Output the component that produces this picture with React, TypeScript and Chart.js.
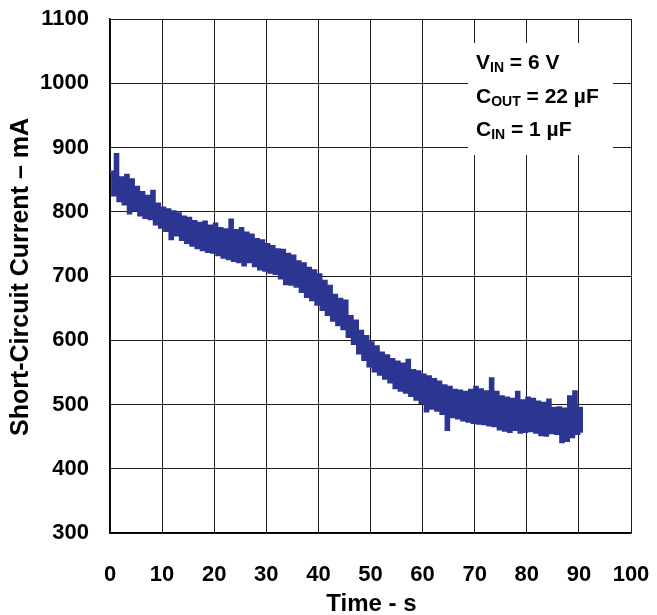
import React, { useEffect, useRef } from "react";
import { Chart, registerables } from "chart.js";

Chart.register(...registerables);

// Sampled short-circuit current (mA), one sample every 0.5 s starting at t = 0 s.
const SAMPLE_STEP_S = 0.5;
const currentMA: number[] = [
  // 0 – 4.5 s
  862, 826, 889, 817, 853, 812, 857, 798, 850, 803,
  // 5 – 9.5 s
  838, 795, 830, 791, 824, 789, 832, 781, 812, 776,
  // 10 – 14.5 s
  806, 771, 803, 758, 800, 764, 797, 757, 792, 752,
  // 15 – 19.5 s
  790, 748, 785, 744, 782, 741, 784, 738, 778, 737,
  // 20 – 24.5 s
  781, 733, 774, 729, 772, 727, 787, 724, 771, 722,
  // 25 – 29.5 s
  774, 717, 767, 722, 764, 716, 757, 711, 755, 709,
  // 30 – 34.5 s
  749, 706, 746, 704, 741, 697, 740, 688, 734, 687,
  // 35 – 39.5 s
  731, 684, 722, 676, 719, 668, 712, 663, 708, 656,
  // 40 – 44.5 s
  702, 648, 692, 640, 684, 631, 670, 624, 664, 618,
  // 45 – 49.5 s
  661, 606, 637, 595, 630, 580, 614, 570, 606, 560,
  // 50 – 54.5 s
  596, 552, 590, 547, 580, 541, 576, 535, 570, 526,
  // 55 – 59.5 s
  566, 522, 563, 519, 569, 514, 553, 508, 551, 503,
  // 60 – 64.5 s
  546, 490, 543, 494, 539, 491, 535, 486, 529, 461,
  // 65 – 69.5 s
  527, 481, 522, 479, 521, 476, 519, 474, 522, 472,
  // 70 – 74.5 s
  527, 471, 523, 470, 520, 468, 540, 467, 519, 462,
  // 75 – 79.5 s
  512, 460, 510, 458, 508, 461, 519, 457, 506, 458,
  // 80 – 84.5 s
  510, 459, 508, 457, 504, 453, 502, 452, 507, 456,
  // 85 – 89.5 s
  494, 455, 495, 442, 493, 444, 512, 450, 520, 455,
  // 90 – 90.5 s
  494, 456,
];

const timeTicksS: number[] = [0, 10, 20, 30, 40, 50, 60, 70, 80, 90, 100];
const currentTicksMA: number[] = [300, 400, 500, 600, 700, 800, 900, 1000, 1100];

const xTitle = "Time - s";
const yTitle = "Short-Circuit Current – mA";

// Test conditions: symbol, subscript, remainder
const conditionSymbols: string[] = ["V", "C", "C"];
const conditionSubs: string[] = ["IN", "OUT", "IN"];
const conditionValues: string[] = [" = 6 V", " = 22 µF", " = 1 µF"];

const FONT = '"Liberation Sans", Arial, Helvetica, sans-serif';
const TRACE_COLOR = "#2c3692";

const overlayPlugin = {
  id: "overlay",
  beforeDatasetsDraw(chart: any) {
    const { ctx, chartArea } = chart;
    // white panel holding the test conditions
    const boxLeft = chartArea.right - 163;
    const boxRight = chartArea.right - 18;
    const boxTop = chartArea.top + 24;
    const boxBottom = chartArea.top + 136;
    ctx.save();
    ctx.fillStyle = "#ffffff";
    ctx.fillRect(boxLeft, boxTop, boxRight - boxLeft, boxBottom - boxTop);
    ctx.fillStyle = "#000000";
    ctx.textBaseline = "alphabetic";
    ctx.textAlign = "left";
    const textX = boxLeft + 8;
    const baselines = [chartArea.top + 50, chartArea.top + 84, chartArea.top + 117];
    conditionSymbols.forEach((sym, i) => {
      let x = textX;
      const y = baselines[i];
      ctx.font = `bold 21px ${FONT}`;
      ctx.fillText(sym, x, y);
      x += ctx.measureText(sym).width;
      ctx.font = `bold 14px ${FONT}`;
      ctx.fillText(conditionSubs[i], x, y + 3);
      x += ctx.measureText(conditionSubs[i]).width;
      ctx.font = `bold 21px ${FONT}`;
      ctx.fillText(conditionValues[i], x, y);
    });
    ctx.restore();
  },
  afterDraw(chart: any) {
    const { ctx, chartArea } = chart;
    ctx.save();
    ctx.fillStyle = "#000000";
    ctx.textAlign = "center";
    ctx.textBaseline = "middle";
    ctx.font = `bold 24px ${FONT}`;
    ctx.fillText(xTitle, (chartArea.left + chartArea.right) / 2 + 1, 604);
    ctx.font = `bold 25px ${FONT}`;
    ctx.translate(21, (chartArea.top + chartArea.bottom) / 2 + 1);
    ctx.rotate(-Math.PI / 2);
    ctx.fillText(yTitle, 0, 0);
    ctx.restore();
  },
};

export default function App() {
  const canvasRef = useRef<HTMLCanvasElement | null>(null);

  useEffect(() => {
    if (!canvasRef.current) return;
    const points = currentMA.map((v, i) => ({ x: i * SAMPLE_STEP_S, y: v }));
    const chart = new Chart(canvasRef.current, {
      type: "line",
      data: {
        datasets: [
          {
            data: points,
            borderColor: TRACE_COLOR,
            backgroundColor: TRACE_COLOR,
            borderWidth: 3,
            stepped: true,
            pointRadius: 0,
            fill: false,
            tension: 0,
          },
        ],
      },
      options: {
        animation: false,
        responsive: false,
        events: [],
        layout: { padding: { top: 19, right: 26, left: 0, bottom: 0 } },
        plugins: {
          legend: { display: false },
          tooltip: { enabled: false },
          title: { display: false },
        },
        scales: {
          x: {
            type: "linear",
            min: 0,
            max: 100,
            afterBuildTicks: (scale: any) => {
              scale.ticks = timeTicksS.map((v) => ({ value: v }));
            },
            afterFit: (scale: any) => {
              scale.height = 82;
              scale.paddingLeft = 0;
              scale.paddingRight = 0;
            },
            ticks: {
              color: "#000",
              padding: 29,
              maxRotation: 0,
              autoSkip: false,
              callback: (v: any) => String(v),
              font: { family: FONT, size: 22, weight: "bold" },
            },
            grid: { color: "#1a1a1a", lineWidth: 1, drawTicks: false },
            border: { color: "#000", width: 1.5 },
          },
          y: {
            type: "linear",
            min: 300,
            max: 1100,
            afterBuildTicks: (scale: any) => {
              scale.ticks = currentTicksMA.map((v) => ({ value: v }));
            },
            afterFit: (scale: any) => {
              scale.width = 110;
              scale.paddingTop = 0;
              scale.paddingBottom = 0;
            },
            ticks: {
              color: "#000",
              padding: 21,
              autoSkip: false,
              callback: (v: any) => String(v),
              font: { family: FONT, size: 22, weight: "bold" },
            },
            grid: { color: "#1a1a1a", lineWidth: 1, drawTicks: false },
            border: { color: "#000", width: 1.5 },
          },
        },
      },
      plugins: [overlayPlugin],
    });
    return () => chart.destroy();
  }, []);

  return (
    <div style={{ position: "fixed", left: 0, top: 0, width: 657, height: 615, background: "#fff" }}>
      <canvas ref={canvasRef} width={657} height={615} />
    </div>
  );
}
